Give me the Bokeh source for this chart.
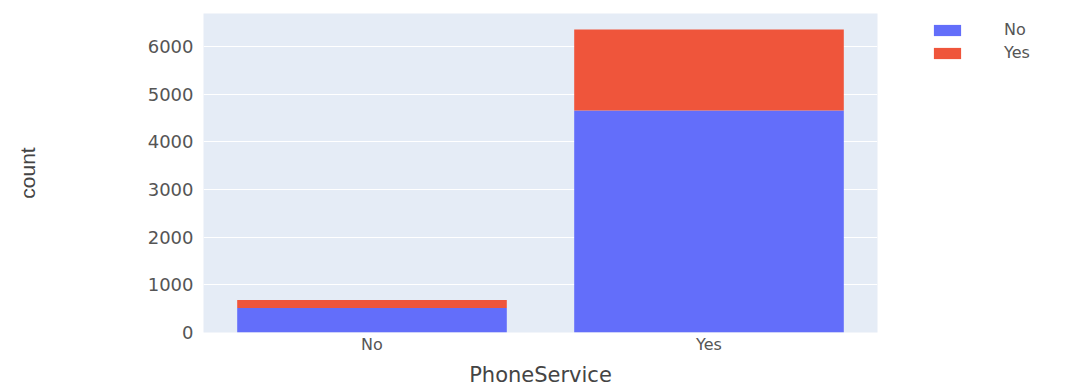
from bokeh.plotting import figure
from bokeh.models import ColumnDataSource, Legend, LegendItem, Range1d, FactorRange
from bokeh.embed import file_html
from bokeh.resources import INLINE

categories = ["No", "Yes"]
churn_labels = ["No", "Yes"]
churn_no = [512, 4662]
churn_yes = [170, 1699]
y_ticks = [0, 1000, 2000, 3000, 4000, 5000, 6000]

colors = ["#636EFA", "#EF553B"]
source = ColumnDataSource(dict(cat=categories, No=churn_no, Yes=churn_yes))

total_max = max(a + b for a, b in zip(churn_no, churn_yes))

p = figure(x_range=FactorRange(*categories, range_padding=0), y_range=Range1d(0, total_max * 1.053),
           frame_width=674, frame_height=319, output_backend="svg", toolbar_location=None,
           min_border_left=203, min_border_top=13, min_border_bottom=0, min_border_right=0)

r = p.vbar_stack(churn_labels, x="cat", width=0.8, color=colors, source=source, line_width=0)

p.background_fill_color = "#E5ECF6"
p.border_fill_color = "white"
p.outline_line_color = None
p.xgrid.grid_line_color = None
p.ygrid.grid_line_color = "white"
p.ygrid.grid_line_width = 1
p.yaxis.ticker = y_ticks
p.axis.axis_line_color = None
p.axis.major_tick_line_color = None
p.axis.minor_tick_line_color = None
p.axis.major_tick_out = 0
p.axis.major_tick_in = 0
p.axis.major_label_text_color = "#555555"
p.axis.major_label_text_font = "DejaVu Sans"
p.yaxis.major_label_text_font_size = "18px"
p.xaxis.major_label_text_font_size = "16px"
p.yaxis.major_label_standoff = 10
p.xaxis.major_label_standoff = 2

p.yaxis.axis_label = "count"
p.yaxis.axis_label_text_font = "Liberation Sans"
p.yaxis.axis_label_text_font_style = "normal"
p.yaxis.axis_label_text_font_size = "21px"
p.yaxis.axis_label_text_color = "#444444"
p.yaxis.axis_label_standoff = 106

p.xaxis.axis_label = "PhoneService"
p.xaxis.axis_label_text_font = "DejaVu Sans"
p.xaxis.axis_label_text_font_style = "normal"
p.xaxis.axis_label_text_font_size = "21px"
p.xaxis.axis_label_text_color = "#444444"
p.xaxis.axis_label_standoff = 6

legend = Legend(items=[LegendItem(label=lab, renderers=[rr]) for lab, rr in zip(churn_labels, r)],
                location=(53, 270), glyph_width=34, glyph_height=14, label_standoff=40,
                spacing=4, padding=0, margin=0, border_line_color=None,
                background_fill_alpha=0,
                label_text_font="DejaVu Sans", label_text_font_size="16px",
                label_text_color="#555555", label_height=14)
legend.label_text_baseline = "middle"
p.add_layout(legend, "right")
p.min_border_right = 193

open("out.html", "w").write(file_html(p, INLINE))
